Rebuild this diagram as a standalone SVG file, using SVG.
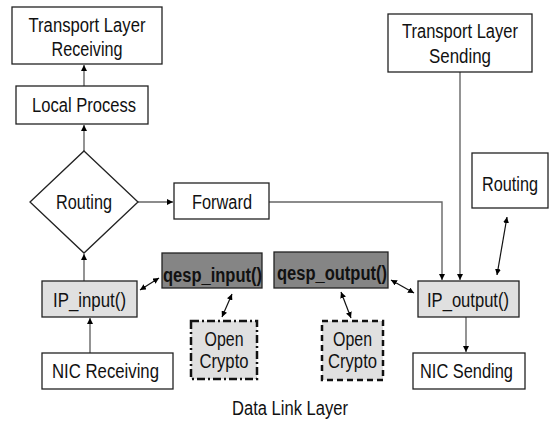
<svg xmlns="http://www.w3.org/2000/svg" width="551" height="424" viewBox="0 0 551 424">
<defs>
<marker id="ah" viewBox="0 0 10 10" refX="10" refY="5" markerWidth="6" markerHeight="6" orient="auto-start-reverse" markerUnits="userSpaceOnUse">
<path d="M0,0 L10,5 L0,10 z" fill="#000"/>
</marker>
<style>
text{font-family:"Liberation Sans",Arial,sans-serif;font-size:20px;fill:#111;text-anchor:middle}
.b{font-weight:bold}
.box{fill:#fff;stroke:#222;stroke-width:1.3}
.lt{fill:#e0e0e0;stroke:#222;stroke-width:1.3}
.dk{fill:#858585;stroke:#222;stroke-width:1.3}
.dd{fill:#e0e0e0;stroke:#111;stroke-width:2.5;stroke-dasharray:8 3 2 3}
.ds{fill:#e0e0e0;stroke:#111;stroke-width:2.5;stroke-dasharray:6 4}
.c{fill:none;stroke:#666;stroke-width:1.4}
.cd{fill:none;stroke:#111;stroke-width:1.2}
</style>
</defs>
<g id="connectors">
<line class="c" x1="84" y1="86" x2="84" y2="65" marker-end="url(#ah)"/>
<line class="c" x1="84" y1="151" x2="84" y2="125" marker-end="url(#ah)"/>
<line class="c" x1="84" y1="281" x2="84" y2="254" marker-end="url(#ah)"/>
<line class="c" x1="90" y1="353" x2="90" y2="318" marker-end="url(#ah)"/>
<line class="c" x1="138" y1="202" x2="173" y2="202" marker-end="url(#ah)"/>
<polyline class="c" points="269,202 442,202 442,280" marker-end="url(#ah)"/>
<line class="c" x1="460" y1="72" x2="460" y2="280" marker-end="url(#ah)"/>
<line class="c" x1="466" y1="317" x2="466" y2="352" marker-end="url(#ah)"/>
<line class="cd" x1="140" y1="290" x2="159" y2="278" marker-start="url(#ah)" marker-end="url(#ah)"/>
<line class="cd" x1="232" y1="294" x2="222" y2="317" marker-start="url(#ah)" marker-end="url(#ah)"/>
<line class="cd" x1="391" y1="280" x2="414" y2="293" marker-start="url(#ah)" marker-end="url(#ah)"/>
<line class="cd" x1="341" y1="292" x2="351" y2="318" marker-start="url(#ah)" marker-end="url(#ah)"/>
<line class="cd" x1="507" y1="217" x2="497" y2="275" marker-start="url(#ah)" marker-end="url(#ah)"/>
</g>
<g id="tl-recv"><rect class="box" x="12" y="7" width="150" height="57"/>
<text x="87" y="32" textLength="117" lengthAdjust="spacingAndGlyphs">Transport Layer</text>
<text x="87" y="56" textLength="71" lengthAdjust="spacingAndGlyphs">Receiving</text></g>
<g id="local"><rect class="box" x="16" y="86" width="132" height="38"/>
<text x="84" y="112" textLength="104" lengthAdjust="spacingAndGlyphs">Local Process</text></g>
<g id="routing-l"><polygon class="box" points="84,151 138,202 84,253 30,202"/>
<text x="84" y="209" textLength="56" lengthAdjust="spacingAndGlyphs">Routing</text></g>
<g id="forward"><rect class="box" x="174" y="183" width="95" height="36"/>
<text x="222" y="209" textLength="60" lengthAdjust="spacingAndGlyphs">Forward</text></g>
<g id="tl-send"><rect class="box" x="388" y="14" width="144" height="58"/>
<text x="460" y="38" textLength="116" lengthAdjust="spacingAndGlyphs">Transport Layer</text>
<text x="460" y="63" textLength="62" lengthAdjust="spacingAndGlyphs">Sending</text></g>
<g id="routing-r"><rect class="box" x="472" y="153" width="76" height="55"/>
<text x="510" y="191" textLength="56" lengthAdjust="spacingAndGlyphs">Routing</text></g>
<g id="ip-input"><rect class="lt" x="42" y="281" width="95" height="36"/>
<text x="89.5" y="307" textLength="73" lengthAdjust="spacingAndGlyphs">IP_input()</text></g>
<g id="qesp-input"><rect class="dk" x="162" y="253" width="100" height="35"/>
<text class="b" x="212.5" y="282" textLength="99" lengthAdjust="spacingAndGlyphs">qesp_input()</text></g>
<g id="crypto-l"><rect class="dd" x="191" y="321" width="66" height="58"/>
<text x="224" y="346" textLength="39" lengthAdjust="spacingAndGlyphs">Open</text>
<text x="224" y="368" textLength="49" lengthAdjust="spacingAndGlyphs">Crypto</text></g>
<g id="nic-recv"><rect class="box" x="42" y="353" width="131" height="36"/>
<text x="105.5" y="378" textLength="107" lengthAdjust="spacingAndGlyphs">NIC Receiving</text></g>
<g id="qesp-output"><rect class="dk" x="274" y="252" width="114" height="36"/>
<text class="b" x="332" y="280" textLength="110" lengthAdjust="spacingAndGlyphs">qesp_output()</text></g>
<g id="ip-output"><rect class="lt" x="418" y="281" width="101" height="36"/>
<text x="468" y="307" textLength="82" lengthAdjust="spacingAndGlyphs">IP_output()</text></g>
<g id="crypto-r"><rect class="ds" x="322" y="321" width="61" height="59"/>
<text x="352.5" y="346" textLength="39" lengthAdjust="spacingAndGlyphs">Open</text>
<text x="352.5" y="368" textLength="49" lengthAdjust="spacingAndGlyphs">Crypto</text></g>
<g id="nic-send"><rect class="box" x="413" y="353" width="112" height="36"/>
<text x="466.5" y="378" textLength="93" lengthAdjust="spacingAndGlyphs">NIC Sending</text></g>
<g id="label"><text x="290" y="415" textLength="116" lengthAdjust="spacingAndGlyphs">Data Link Layer</text></g>
</svg>
